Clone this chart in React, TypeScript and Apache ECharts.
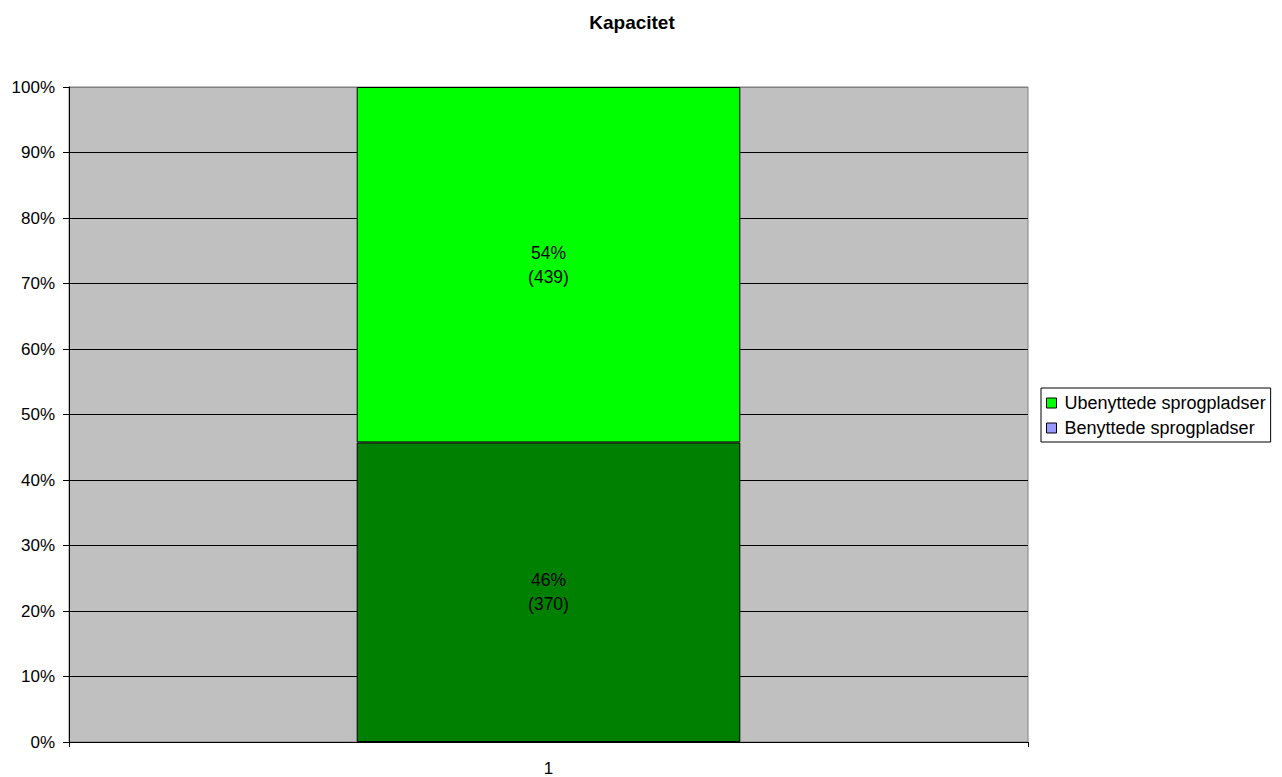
import React, { useEffect, useRef } from "react";
import * as echarts from "echarts";

const title = "Kapacitet";
const categories = ["1"];
const usedName = "Benyttede sprogpladser";
const unusedName = "Ubenyttede sprogpladser";
const usedCounts = [370];
const unusedCounts = [439];
const yTicks = [0, 10, 20, 30, 40, 50, 60, 70, 80, 90, 100];

export default function App() {
  const ref = useRef<HTMLDivElement>(null);
  useEffect(() => {
    if (!ref.current) return;
    const chart = echarts.init(ref.current, undefined, { renderer: "svg" });
    const totals = categories.map((_, i) => usedCounts[i] + unusedCounts[i]);
    const usedPct = usedCounts.map((v, i) => (v / totals[i]) * 100);
    const unusedPct = unusedCounts.map((v, i) => (v / totals[i]) * 100);
    const font = "Liberation Sans, Arial, sans-serif";
    const labelFmt = (counts: number[]) => (p: any) =>
      Math.round(p.value) + "%\n(" + counts[p.dataIndex] + ")";
    const gridColors = yTicks.map((t) => (t === 100 ? "#808080" : "#000000"));
    chart.setOption({
      animation: false,
      backgroundColor: "#ffffff",
      textStyle: { fontFamily: font },
      title: {
        text: title,
        left: 632,
        textAlign: "center",
        top: 13,
        padding: 0,
        textStyle: { fontFamily: font, fontSize: 19, fontWeight: "bold", color: "#000" },
      },
      legend: {
        left: 1041,
        top: 388,
        orient: "vertical",
        selectedMode: false,
        borderColor: "#000",
        borderWidth: 1,
        padding: [6, 5, 5, 5],
        itemGap: 7,
        itemWidth: 10,
        itemHeight: 10,
        icon: "rect",
        itemStyle: { borderColor: "#000", borderWidth: 1 },
        textStyle: { fontFamily: font, fontSize: 18, color: "#000", padding: [0, 0, 0, 3] },
        data: [
          { name: unusedName, itemStyle: { color: "#00FF00" } },
          { name: usedName, itemStyle: { color: "#9999FF" } },
        ],
      },
      grid: {
        left: 69,
        right: 254,
        top: 87,
        bottom: 34,
        show: true,
        backgroundColor: "#C0C0C0",
        borderColor: "#808080",
        borderWidth: 1,
      },
      xAxis: {
        type: "category",
        data: categories,
        boundaryGap: true,
        axisLine: { lineStyle: { color: "#000", width: 1 } },
        axisTick: { show: true, length: 5, lineStyle: { color: "#000" } },
        axisLabel: { fontFamily: font, fontSize: 17, color: "#000", margin: 18 },
      },
      yAxis: {
        type: "value",
        min: 0,
        max: 100,
        interval: 10,
        axisLine: { show: true, lineStyle: { color: "#000", width: 1 } },
        axisTick: { show: true, length: 6, lineStyle: { color: "#000" } },
        axisLabel: {
          fontFamily: font,
          fontSize: 17,
          color: "#000",
          margin: 14,
          formatter: "{value}%",
        },
        splitLine: { show: true, lineStyle: { color: gridColors, width: 1 } },
      },
      series: [
        {
          name: usedName,
          type: "bar",
          stack: "total",
          barWidth: "40%",
          data: usedPct,
          itemStyle: { color: "#008000", borderColor: "#000", borderWidth: 1 },
          label: {
            show: true,
            position: "inside",
            formatter: labelFmt(usedCounts),
            fontFamily: font,
            fontSize: 17.5,
            lineHeight: 24,
            color: "#000",
          },
        },
        {
          name: unusedName,
          type: "bar",
          stack: "total",
          barWidth: "40%",
          data: unusedPct,
          itemStyle: { color: "#00FF00", borderColor: "#000", borderWidth: 1 },
          label: {
            show: true,
            position: "inside",
            formatter: labelFmt(unusedCounts),
            fontFamily: font,
            fontSize: 17.5,
            lineHeight: 24,
            color: "#000",
          },
        },
      ],
    });
    return () => chart.dispose();
  }, []);
  return (
    <div
      ref={ref}
      style={{ position: "fixed", left: 0, top: 0, width: 1282, height: 777, background: "#fff" }}
    />
  );
}
